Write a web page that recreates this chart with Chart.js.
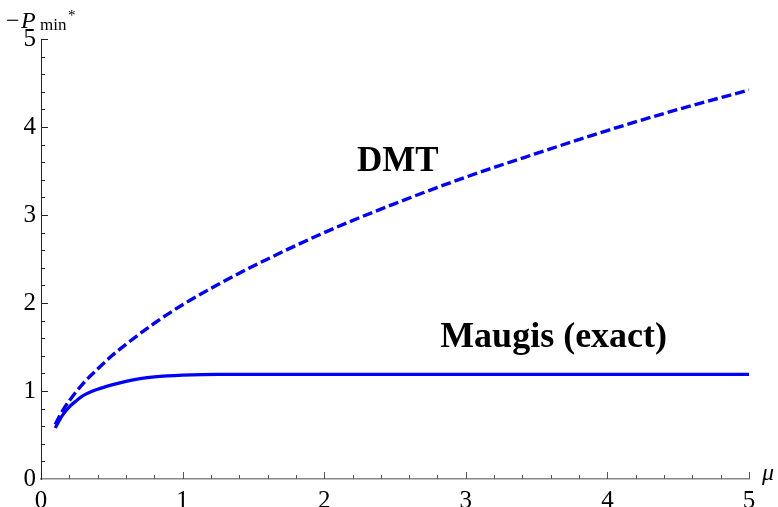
<!DOCTYPE html>
<html>
<head>
<meta charset="utf-8">
<script src="https://cdn.jsdelivr.net/npm/chart.js@4.4.1/dist/chart.umd.min.js"></script>
<style>
html,body{margin:0;padding:0;background:#fff;}
#wrap{width:778px;height:507px;position:relative;}
</style>
</head>
<body>
<div id="wrap"><canvas id="c" width="778" height="507"></canvas></div>
<script>
// Data
const muDMT = [0.1, 0.15, 0.2, 0.3, 0.4, 0.5, 0.6, 0.8, 1.0, 1.25, 1.5, 2.0, 2.5, 3.0, 3.5, 4.0, 4.5, 5.0];
const pDMT  = [0.62, 0.77, 0.89, 1.09, 1.25, 1.40, 1.53, 1.77, 1.98, 2.21, 2.42, 2.80, 3.13, 3.43, 3.70, 3.96, 4.20, 4.42];
const muMaugis = [0.1, 0.15, 0.2, 0.25, 0.3, 0.4, 0.5, 0.6, 0.7, 0.8, 1.0, 1.25, 1.5, 2.0, 3.0, 4.0, 5.0];
const pMaugis  = [0.58, 0.72, 0.82, 0.89, 0.95, 1.02, 1.07, 1.11, 1.14, 1.16, 1.18, 1.19, 1.19, 1.19, 1.19, 1.19, 1.19];
const xTicks = [0, 1, 2, 3, 4, 5];
const yTicks = [0, 1, 2, 3, 4, 5];
const labelDMT = "DMT";
const labelMaugis = "Maugis (exact)";

const serif = "'Liberation Serif', 'DejaVu Serif', serif";
Chart.defaults.font.family = serif;

const decor = {
  id: 'decor',
  afterDraw(chart) {
    const ctx = chart.ctx;
    const xs = chart.scales.x, ys = chart.scales.y;
    const x0 = xs.getPixelForValue(0), y0 = ys.getPixelForValue(0);
    ctx.save();
    // inward ticks
    ctx.lineWidth = 1;
    for (let i = 1; i <= 25; i++) {
      const v = i * 0.2;
      const major = i % 5 === 0;
      const len = major ? 7 : 4;
      const px = Math.round(xs.getPixelForValue(v)) + 0.5;
      ctx.strokeStyle = '#555';
      ctx.beginPath(); ctx.moveTo(px, y0); ctx.lineTo(px, y0 - len); ctx.stroke();
      const py = Math.round(ys.getPixelForValue(v)) + 0.5;
      ctx.strokeStyle = '#222';
      ctx.beginPath(); ctx.moveTo(x0, py); ctx.lineTo(x0 + len, py); ctx.stroke();
    }
    // axis titles
    ctx.fillStyle = '#000';
    ctx.textBaseline = 'alphabetic';
    ctx.textAlign = 'left';
    ctx.font = '24px ' + serif;
    ctx.fillText('\u2212', 6, 28);
    ctx.font = 'italic 24px ' + serif;
    ctx.fillText('P', 21, 28);
    ctx.font = '17px ' + serif;
    ctx.fillText('min', 40, 30);
    ctx.font = '15px ' + serif;
    ctx.fillText('*', 68, 20);
    ctx.font = 'italic 24px ' + serif;
    ctx.fillText('\u03BC', 762, 480);
    // annotations
    ctx.textAlign = 'center';
    ctx.textBaseline = 'middle';
    ctx.font = 'bold 35px ' + serif;
    ctx.fillText(labelDMT, xs.getPixelForValue(2.52), ys.getPixelForValue(3.6));
    ctx.font = 'bold 36px ' + serif;
    ctx.fillText(labelMaugis, xs.getPixelForValue(3.62), ys.getPixelForValue(1.6));
    ctx.restore();
  }
};

new Chart(document.getElementById('c'), {
  type: 'line',
  data: {
    datasets: [
      {
        label: labelDMT,
        data: muDMT.map((m, i) => ({x: m, y: pDMT[i]})),
        borderColor: '#0000ff',
        borderWidth: 3.4,
        borderDash: [10, 4],
        pointRadius: 0,
        cubicInterpolationMode: 'monotone',
        fill: false
      },
      {
        label: labelMaugis,
        data: muMaugis.map((m, i) => ({x: m, y: pMaugis[i]})),
        borderColor: '#0000ff',
        borderWidth: 3.2,
        pointRadius: 0,
        cubicInterpolationMode: 'monotone',
        fill: false
      }
    ]
  },
  options: {
    responsive: false,
    animation: false,
    events: [],
    layout: { padding: { top: 39, right: 29, left: 0, bottom: 0 } },
    plugins: { legend: { display: false }, tooltip: { enabled: false } },
    scales: {
      x: {
        type: 'linear', min: 0, max: 5,
        afterBuildTicks: s => { s.ticks = xTicks.map(v => ({value: v})); },
        afterFit: s => { s.height = 28; },
        grid: { display: false, drawTicks: false },
        border: { display: true, color: '#888', width: 1.6 },
        ticks: { color: '#000', padding: 7, font: { family: serif, size: 25 }, maxRotation: 0 }
      },
      y: {
        type: 'linear', min: 0, max: 5,
        afterBuildTicks: s => { s.ticks = yTicks.map(v => ({value: v})); },
        afterFit: s => { s.width = 41; },
        grid: { display: false, drawTicks: false },
        border: { display: true, color: '#222', width: 1 },
        ticks: { color: '#000', padding: 5, font: { family: serif, size: 25 } }
      }
    }
  },
  plugins: [decor]
});
</script>
</body>
</html>
